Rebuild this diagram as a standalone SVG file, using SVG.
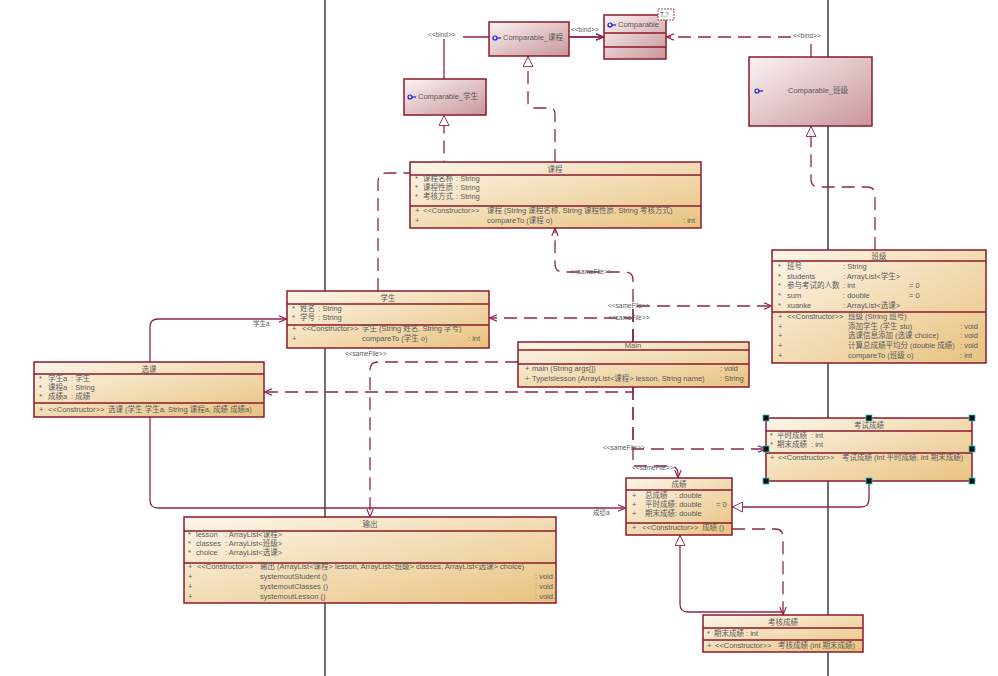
<svg xmlns="http://www.w3.org/2000/svg" width="998" height="676" viewBox="0 0 998 676">
<defs>
<linearGradient id="gc" x1="0" y1="0" x2="1" y2="1"><stop offset="0" stop-color="#fdf6ea"/><stop offset="1" stop-color="#e8c27f"/></linearGradient>
<linearGradient id="gp" x1="0" y1="0" x2="1" y2="1"><stop offset="0" stop-color="#fbf3f3"/><stop offset="1" stop-color="#c8959a"/></linearGradient>
<marker id="open" viewBox="0 0 10 10" refX="10" refY="5" markerWidth="8" markerHeight="8" orient="auto" markerUnits="userSpaceOnUse"><path d="M0,1 L10,5 L0,9" fill="none" stroke="#8e2454" stroke-width="1.4"/></marker>
<marker id="tri" viewBox="0 0 12 12" refX="12" refY="6" markerWidth="12" markerHeight="11" orient="auto" markerUnits="userSpaceOnUse"><path d="M0.5,0.5 L11.5,6 L0.5,11.5 Z" fill="#fff" stroke="#8e2454" stroke-width="1"/></marker>
</defs>
<style>
.bx{fill:url(#gc);stroke:#8b1a2b;stroke-width:1.5}
.bp{fill:url(#gp);stroke:#8b1a2b;stroke-width:1.5}
.dv{stroke:#8b1a2b;stroke-width:1.5}
.t{font-family:"Liberation Sans","Noto Sans CJK SC",sans-serif;font-size:7.5px;fill:#5a5a5a}
.c{text-anchor:middle}
.ln{fill:none;stroke:#8e2454;stroke-width:1.3}
.ds{stroke-dasharray:13,7}
.lb{font-family:"Liberation Sans","Noto Sans CJK SC",sans-serif;font-size:6.5px;fill:#5a5a5a}
.ic{fill:none;stroke:#1a1adb;stroke-width:1.2}
.h{fill:#111;stroke:#2cc;stroke-width:0.8}
</style>
<rect width="998" height="676" fill="#fff"/>
<line x1="325" y1="0" x2="325" y2="676" stroke="#222" stroke-width="1.3"/>
<line x1="828" y1="0" x2="828" y2="676" stroke="#222" stroke-width="1.3"/>

<g id="connectors">
<path class="ln" d="M444,79 V37 H604" marker-end="url(#open)"/>
<path class="ln" d="M569,37 H604" marker-end="url(#open)"/>
<path class="ln ds" d="M811,57 V37 H666" marker-end="url(#open)"/>
<path class="ln ds" d="M555,162 V114 Q555,108 549,108 H534 Q528,108 528,102 V56" marker-end="url(#tri)"/>
<path class="ln ds" d="M378,291 V182 Q378,173 387,173 H444 V115" marker-end="url(#tri)"/>
<path class="ln ds" d="M875,250 V195 Q875,187 867,187 H819 Q811,187 811,179 V126" marker-end="url(#tri)"/>
<path class="ln" d="M150,362 V327 Q150,319 158,319 H287" marker-end="url(#open)"/>
<path class="ln" d="M150,417 V500 Q150,508 158,508 H626" marker-end="url(#open)"/>
<path class="ln ds" d="M633,342 V280 Q633,272 625,272 H563 Q555,272 555,264 V228" marker-end="url(#open)"/>
<path class="ln ds" d="M633,342 V306 H772" marker-end="url(#open)"/>
<path class="ln ds" d="M633,342 V318 H489" marker-end="url(#open)"/>
<path class="ln ds" d="M518,362 H378 Q370,362 370,370 V517" marker-end="url(#open)"/>
<path class="ln ds" d="M633,387 V392 H264" marker-end="url(#open)"/>
<path class="ln ds" d="M633,387 V449 H766" marker-end="url(#open)"/>
<path class="ln ds" d="M633,387 V466 H670 Q678,466 678,474 V478" marker-end="url(#open)"/>
<path class="ln" d="M869,481 V499 Q869,507 861,507 H732" marker-end="url(#tri)"/>
<path class="ln" d="M783,615 V612 H688 Q680,612 680,604 V535" marker-end="url(#tri)"/>
<path class="ln ds" d="M732,529 H775 Q783,529 783,537 V615" marker-end="url(#open)"/>
<rect x="427" y="30" width="36" height="9" fill="#fff"/>
<text class="lb" x="428" y="37">&lt;&lt;bind&gt;&gt;</text>
<text class="lb" x="571" y="32">&lt;&lt;bind&gt;&gt;</text>
<rect x="792" y="31" width="35" height="9" fill="#fff"/>
<text class="lb" x="793" y="38">&lt;&lt;bind&gt;&gt;</text>
<text class="lb" x="570" y="274">&lt;&lt;sameFile&gt;&gt;</text>
<text class="lb" x="608" y="308">&lt;&lt;sameFile&gt;&gt;</text>
<text class="lb" x="608" y="320">&lt;&lt;sameFile&gt;&gt;</text>
<text class="lb" x="345" y="356">&lt;&lt;sameFile&gt;&gt;</text>
<text class="lb" x="603" y="450">&lt;&lt;sameFile&gt;&gt;</text>
<text class="lb" x="632" y="470">&lt;&lt;sameFile&gt;&gt;</text>
<text class="lb" x="253" y="326">学生a</text>
<text class="lb" x="593" y="515">成绩a</text>
</g>

<g id="comparable-kecheng">
<rect class="bp" x="489" y="22" width="80" height="34"/>
<circle class="ic" cx="495" cy="38" r="2"/><line class="ic" x1="497" y1="38" x2="501" y2="38"/>
<text class="t" x="503" y="40">Comparable_课程</text>
</g>
<g id="comparable">
<rect class="bp" x="604" y="15" width="62" height="44"/>
<line class="dv" x1="604" y1="33" x2="666" y2="33"/>
<line class="dv" x1="604" y1="47" x2="666" y2="47"/>
<circle class="ic" cx="610" cy="25" r="2"/><line class="ic" x1="612" y1="25" x2="616" y2="25"/>
<text class="t" x="618" y="27">Comparable</text>
<rect x="658" y="9" width="16" height="11" fill="#fff" stroke="#8b1a2b" stroke-width="0.8" stroke-dasharray="2,1"/>
<text class="lb" x="660" y="17">T,?</text>
</g>
<g id="comparable-xuesheng">
<rect class="bp" x="404" y="79" width="82" height="36"/>
<circle class="ic" cx="410" cy="97" r="2"/><line class="ic" x1="412" y1="97" x2="416" y2="97"/>
<text class="t" x="418" y="99">Comparable_学生</text>
</g>
<g id="comparable-banji">
<rect class="bp" x="749" y="57" width="123" height="69"/>
<circle class="ic" cx="757" cy="91" r="2"/><line class="ic" x1="759" y1="91" x2="763" y2="91"/>
<text class="t" x="788" y="93">Comparable_班级</text>
</g>

<g id="kecheng">
<rect class="bx" x="410" y="162" width="291" height="66"/>
<line class="dv" x1="410" y1="175" x2="701" y2="175"/>
<line class="dv" x1="410" y1="206" x2="701" y2="206"/>
<text class="t c" x="555" y="172">课程</text>
<text class="t" x="415" y="181">*</text><text class="t" x="423" y="181">课程名称</text><text class="t" x="456" y="181">: String</text>
<text class="t" x="415" y="190">*</text><text class="t" x="423" y="190">课程性质</text><text class="t" x="456" y="190">: String</text>
<text class="t" x="415" y="199">*</text><text class="t" x="423" y="199">考核方式</text><text class="t" x="456" y="199">: String</text>
<text class="t" x="415" y="213">+</text><text class="t" x="423" y="213">&lt;&lt;Constructor&gt;&gt;</text><text class="t" x="487" y="213">课程 (String 课程名称, String 课程性质, String 考核方式)</text>
<text class="t" x="415" y="223">+</text><text class="t" x="487" y="223">compareTo (课程 o)</text><text class="t" x="683" y="223">: int</text>
</g>

<g id="banji">
<rect class="bx" x="772" y="250" width="214" height="113"/>
<line class="dv" x1="772" y1="261" x2="986" y2="261"/>
<line class="dv" x1="772" y1="312" x2="986" y2="312"/>
<text class="t c" x="879" y="259">班级</text>
<text class="t" x="778" y="269">*</text><text class="t" x="787" y="269">班号</text><text class="t" x="843" y="269">: String</text>
<text class="t" x="778" y="279">*</text><text class="t" x="787" y="279">students</text><text class="t" x="843" y="279">: ArrayList&lt;学生&gt;</text>
<text class="t" x="778" y="288">*</text><text class="t" x="787" y="288">参与考试的人数</text><text class="t" x="843" y="288">: int</text><text class="t" x="909" y="288">= 0</text>
<text class="t" x="778" y="298">*</text><text class="t" x="787" y="298">sum</text><text class="t" x="843" y="298">: double</text><text class="t" x="909" y="298">= 0</text>
<text class="t" x="778" y="308">*</text><text class="t" x="787" y="308">xuanke</text><text class="t" x="843" y="308">: ArrayList&lt;选课&gt;</text>
<text class="t" x="778" y="319">+</text><text class="t" x="787" y="319">&lt;&lt;Constructor&gt;&gt;</text><text class="t" x="848" y="319">班级 (String 班号)</text>
<text class="t" x="778" y="329">+</text><text class="t" x="848" y="329">添加学生 (学生 stu)</text><text class="t" x="960" y="329">: void</text>
<text class="t" x="778" y="338">+</text><text class="t" x="848" y="338">选课信息添加 (选课 choice)</text><text class="t" x="960" y="338">: void</text>
<text class="t" x="778" y="348">+</text><text class="t" x="848" y="348">计算总成绩平均分 (double 成绩)</text><text class="t" x="960" y="348">: void</text>
<text class="t" x="778" y="358">+</text><text class="t" x="848" y="358">compareTo (班级 o)</text><text class="t" x="960" y="358">: int</text>
</g>

<g id="xuesheng">
<rect class="bx" x="287" y="291" width="202" height="57"/>
<line class="dv" x1="287" y1="304" x2="489" y2="304"/>
<line class="dv" x1="287" y1="325" x2="489" y2="325"/>
<text class="t c" x="388" y="301">学生</text>
<text class="t" x="292" y="311">*</text><text class="t" x="300" y="311">姓名</text><text class="t" x="318" y="311">: String</text>
<text class="t" x="292" y="320">*</text><text class="t" x="300" y="320">学号</text><text class="t" x="318" y="320">: String</text>
<text class="t" x="292" y="331">+</text><text class="t" x="302" y="331">&lt;&lt;Constructor&gt;&gt;</text><text class="t" x="362" y="331">学生 (String 姓名, String 学号)</text>
<text class="t" x="292" y="341">+</text><text class="t" x="362" y="341">compareTo (学生 o)</text><text class="t" x="468" y="341">: int</text>
</g>

<g id="xuanke">
<rect class="bx" x="34" y="362" width="230" height="55"/>
<line class="dv" x1="34" y1="374" x2="264" y2="374"/>
<line class="dv" x1="34" y1="403" x2="264" y2="403"/>
<text class="t c" x="149" y="372">选课</text>
<text class="t" x="39" y="381">*</text><text class="t" x="48" y="381">学生a</text><text class="t" x="71" y="381">: 学生</text>
<text class="t" x="39" y="390">*</text><text class="t" x="48" y="390">课程a</text><text class="t" x="71" y="390">: String</text>
<text class="t" x="39" y="399">*</text><text class="t" x="48" y="399">成绩a</text><text class="t" x="71" y="399">: 成绩</text>
<text class="t" x="39" y="412">+</text><text class="t" x="48" y="412">&lt;&lt;Constructor&gt;&gt;</text><text class="t" x="108" y="412">选课 (学生 学生a, String 课程a, 成绩 成绩a)</text>
</g>

<g id="main">
<rect class="bx" x="518" y="342" width="231" height="45"/>
<line class="dv" x1="518" y1="350" x2="749" y2="350"/>
<line class="dv" x1="518" y1="364" x2="749" y2="364"/>
<text class="t c" x="633" y="348">Main</text>
<text class="t" x="525" y="371">+</text><text class="t" x="532" y="371">main (String args[])</text><text class="t" x="720" y="371">: void</text>
<text class="t" x="525" y="381">+</text><text class="t" x="532" y="381">TypeIslesson (ArrayList&lt;课程&gt; lesson, String name)</text><text class="t" x="720" y="381">: String</text>
</g>

<g id="kaoshichengji">
<rect class="bx" x="766" y="418" width="206" height="63"/>
<line class="dv" x1="766" y1="431" x2="972" y2="431"/>
<line class="dv" x1="766" y1="453" x2="972" y2="453"/>
<text class="t c" x="869" y="428">考试成绩</text>
<text class="t" x="770" y="438">*</text><text class="t" x="777" y="438">平时成绩</text><text class="t" x="811" y="438">: int</text>
<text class="t" x="770" y="447">*</text><text class="t" x="777" y="447">期末成绩</text><text class="t" x="811" y="447">: int</text>
<text class="t" x="770" y="460">+</text><text class="t" x="778" y="460">&lt;&lt;Constructor&gt;&gt;</text><text class="t" x="842" y="460">考试成绩 (int 平时成绩, int 期末成绩)</text>
<rect class="h" x="763" y="415" width="6" height="6"/><rect class="h" x="866" y="415" width="6" height="6"/><rect class="h" x="969" y="415" width="6" height="6"/>
<rect class="h" x="763" y="446" width="6" height="6"/><rect class="h" x="969" y="446" width="6" height="6"/>
<rect class="h" x="763" y="478" width="6" height="6"/><rect class="h" x="866" y="478" width="6" height="6"/><rect class="h" x="969" y="478" width="6" height="6"/>
</g>

<g id="chengji">
<rect class="bx" x="626" y="478" width="106" height="57"/>
<line class="dv" x1="626" y1="490" x2="732" y2="490"/>
<line class="dv" x1="626" y1="523" x2="732" y2="523"/>
<text class="t c" x="679" y="487">成绩</text>
<text class="t" x="632" y="498">+</text><text class="t" x="645" y="498">总成绩</text><text class="t" x="675" y="498">: double</text>
<text class="t" x="632" y="507">+</text><text class="t" x="645" y="507">平时成绩</text><text class="t" x="675" y="507">: double</text><text class="t" x="716" y="507">= 0</text>
<text class="t" x="632" y="516">+</text><text class="t" x="645" y="516">期末成绩</text><text class="t" x="675" y="516">: double</text>
<text class="t" x="632" y="530">+</text><text class="t" x="642" y="530">&lt;&lt;Constructor&gt;&gt;</text><text class="t" x="702" y="530">成绩 ()</text>
</g>

<g id="shuchu">
<rect class="bx" x="184" y="517" width="372" height="86"/>
<line class="dv" x1="184" y1="531" x2="556" y2="531"/>
<line class="dv" x1="184" y1="563" x2="556" y2="563"/>
<text class="t c" x="370" y="527">输出</text>
<text class="t" x="188" y="537">*</text><text class="t" x="196" y="537">lesson</text><text class="t" x="225" y="537">: ArrayList&lt;课程&gt;</text>
<text class="t" x="188" y="546">*</text><text class="t" x="196" y="546">classes</text><text class="t" x="225" y="546">: ArrayList&lt;班级&gt;</text>
<text class="t" x="188" y="555">*</text><text class="t" x="196" y="555">choice</text><text class="t" x="225" y="555">: ArrayList&lt;选课&gt;</text>
<text class="t" x="188" y="569">+</text><text class="t" x="197" y="569">&lt;&lt;Constructor&gt;&gt;</text><text class="t" x="260" y="569">输出 (ArrayList&lt;课程&gt; lesson, ArrayList&lt;班级&gt; classes, ArrayList&lt;选课&gt; choice)</text>
<text class="t" x="188" y="579">+</text><text class="t" x="260" y="579">systemoutStudent ()</text><text class="t" x="535" y="579">: void</text>
<text class="t" x="188" y="589">+</text><text class="t" x="260" y="589">systemoutClasses ()</text><text class="t" x="535" y="589">: void</text>
<text class="t" x="188" y="599">+</text><text class="t" x="260" y="599">systemoutLesson ()</text><text class="t" x="535" y="599">: void</text>
</g>

<g id="kaohechengji">
<rect class="bx" x="703" y="615" width="160" height="37"/>
<line class="dv" x1="703" y1="628" x2="863" y2="628"/>
<line class="dv" x1="703" y1="640" x2="863" y2="640"/>
<text class="t c" x="783" y="625">考核成绩</text>
<text class="t" x="707" y="636">*</text><text class="t" x="714" y="636">期末成绩</text><text class="t" x="746" y="636">: int</text>
<text class="t" x="707" y="648">+</text><text class="t" x="715" y="648">&lt;&lt;Constructor&gt;&gt;</text><text class="t" x="778" y="648">考核成绩 (int 期末成绩)</text>
</g>
</svg>
